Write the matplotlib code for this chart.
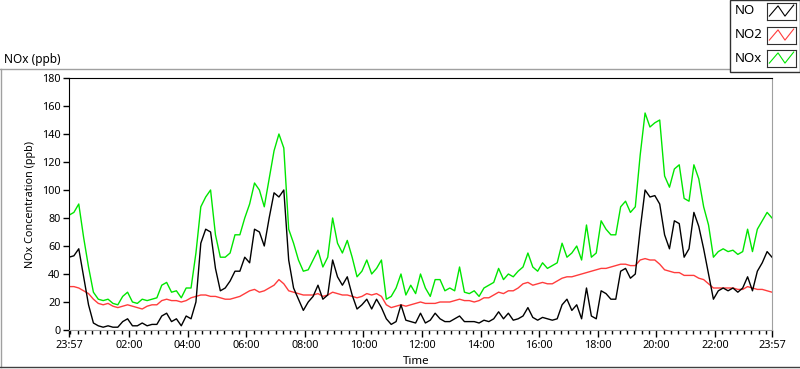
import numpy as np
import matplotlib
matplotlib.use('Agg')
import matplotlib.pyplot as plt
from matplotlib.lines import Line2D
from matplotlib.patches import Rectangle

plt.rcParams['font.family'] = ['Noto Sans', 'DejaVu Sans']
plt.rcParams['font.size'] = 7.8

# readings every 10 minutes, starting 23:57 (ppb)
step_min = 10
no = [52, 53, 58, 38, 18, 5, 3, 2, 3, 2, 2, 6, 8, 3, 3, 5, 3, 4, 4, 10, 12, 6, 8, 3, 10,
      8, 20, 62, 72, 70, 44, 28, 30, 35, 42, 42, 52, 48, 72, 70, 60, 80, 98, 95, 100, 50, 30, 22, 14,
      20, 24, 32, 22, 25, 50, 38, 32, 38, 25, 15, 18, 22, 15, 22, 16, 8, 4, 6, 18, 7, 6, 5, 12, 5,
      7, 12, 8, 6, 6, 8, 10, 6, 6, 6, 5, 7, 6, 8, 13, 8, 12, 7, 8, 10, 16, 9, 7, 9,
      8, 7, 8, 18, 22, 14, 18, 8, 30, 10, 8, 28, 26, 22, 22, 42, 44, 37, 40, 72, 100, 95, 96, 90, 68,
      58, 78, 76, 52, 58, 84, 74, 58, 40, 22, 28, 30, 28, 30, 27, 30, 38, 28, 42, 48, 56, 52]
no2 = [31, 31, 30, 28, 26, 22, 19, 18, 19, 17, 16, 17, 18, 17, 16, 15, 17, 18, 18, 21, 22, 21, 21, 20, 21,
       23, 24, 25, 25, 24, 24, 23, 22, 22, 23, 24, 26, 28, 29, 27, 28, 30, 32, 36, 33, 28, 27, 26, 25,
       25, 25, 26, 24, 25, 27, 26, 25, 25, 24, 23, 24, 26, 25, 26, 24, 18, 16, 17, 18, 17, 18, 19, 20, 19,
       19, 19, 20, 20, 20, 21, 22, 21, 21, 20, 21, 23, 23, 25, 27, 26, 28, 28, 30, 33, 34, 32, 33, 34,
       33, 33, 35, 37, 38, 38, 39, 40, 41, 42, 43, 44, 44, 45, 46, 47, 47, 46, 46, 50, 51, 50, 50, 47, 43,
       42, 41, 41, 39, 39, 39, 37, 36, 33, 30, 30, 30, 30, 30, 29, 29, 31, 30, 29, 29, 28, 27]
nox = [82, 84, 90, 66, 45, 27, 22, 21, 22, 19, 18, 24, 27, 20, 19, 22, 21, 22, 23, 32, 34, 27, 28, 23, 30,
       30, 55, 88, 95, 100, 68, 52, 52, 55, 68, 68, 80, 90, 105, 100, 88, 108, 128, 140, 130, 72, 62, 50, 42,
       43, 50, 57, 45, 52, 80, 62, 55, 64, 52, 38, 42, 50, 40, 44, 50, 22, 24, 30, 40, 25, 32, 26, 40, 30,
       24, 36, 36, 28, 30, 28, 45, 27, 26, 28, 24, 30, 32, 34, 44, 36, 40, 38, 42, 45, 55, 45, 42, 48,
       44, 46, 48, 62, 52, 55, 60, 50, 75, 52, 55, 78, 72, 68, 68, 88, 92, 84, 88, 125, 155, 145, 148, 150, 110,
       102, 115, 118, 94, 92, 118, 108, 88, 75, 52, 56, 58, 56, 57, 54, 56, 72, 56, 72, 78, 84, 80]
tick_labels = ['23:57', '02:00', '04:00', '06:00', '08:00', '10:00', '12:00',
               '14:00', '16:00', '18:00', '20:00', '22:00', '23:57']

minutes = np.arange(len(no)) * step_min

W, H = 800, 369
def fx(px):
    return px / W
def fy(py):
    return 1 - py / H

fig = plt.figure(figsize=(8, 3.69), dpi=100)
ax = fig.add_axes([fx(69), fy(330), (772 - 69) / W, (330 - 78) / H])

ax.plot(minutes, nox, color='#00e600', lw=1.0)
ax.plot(minutes, no2, color='#ff3c3c', lw=1.0)
ax.plot(minutes, no, color='black', lw=1.0)

ax.set_xlim(0, 1440)
ax.set_ylim(0, 180)
ax.set_yticks(np.arange(0, 181, 20))
major = [0] + list(range(123, 1440, 120)) + [1440]
ax.set_xticks(major)
ax.set_xticklabels(tick_labels)
ax.set_xticks(np.arange(3, 1441, 15), minor=True)
ax.tick_params(axis='y', length=4, width=1, pad=2, colors='black')
ax.tick_params(axis='x', which='major', length=5, width=1, pad=2, colors='black')
ax.tick_params(axis='x', which='minor', length=3, width=1, color='black')
for s in ['top', 'left']:
    ax.spines[s].set_color('black')
for s in ['right', 'bottom']:
    ax.spines[s].set_color('#a0a0a0')

fig.text(fx(4), fy(59), 'NOx (ppb)', va='center', ha='left', fontsize=8.5)
fig.text(fx(30), fy(205), 'NOx Concentration (ppb)', rotation=90, va='center', ha='center')
fig.text(fx(416), fy(361), 'Time', va='center', ha='center', fontsize=8.3)

# chart frame
fig.add_artist(Line2D([fx(0), fx(772)], [fy(69), fy(69)], color='#a0a0a0', lw=1, zorder=0.5))
fig.add_artist(Line2D([fx(1), fx(1)], [fy(69), fy(367)], color='#a0a0a0', lw=1, zorder=0.5))
fig.add_artist(Line2D([fx(0), fx(800)], [fy(367), fy(367)], color='#404040', lw=1, zorder=0.5))

# legend
fig.add_artist(Rectangle((fx(730), fy(72)), fx(800) - fx(730), fy(0) - fy(72),
                         transform=fig.transFigure, facecolor='white', edgecolor='#303030',
                         lw=1, zorder=0.6))
for name, color, cy in [('NO', 'black', 11), ('NO2', '#ff3c3c', 35), ('NOx', '#00e600', 58)]:
    fig.text(fx(735), fy(cy), name, va='center', ha='left', fontsize=9.5, zorder=3)
    lax = fig.add_axes([fx(767), fy(cy + 8.5), (796 - 767) / W, 17 / H])
    lax.set_zorder(2)
    lax.plot([0.08, 0.38, 0.62, 0.92], [0.2, 0.8, 0.2, 0.85], color=color, lw=0.8)
    lax.set_xlim(0, 1)
    lax.set_ylim(0, 1)
    lax.set_xticks([])
    lax.set_yticks([])
    for s in lax.spines.values():
        s.set_color('#303030')

fig.savefig('out.png', dpi=100)
